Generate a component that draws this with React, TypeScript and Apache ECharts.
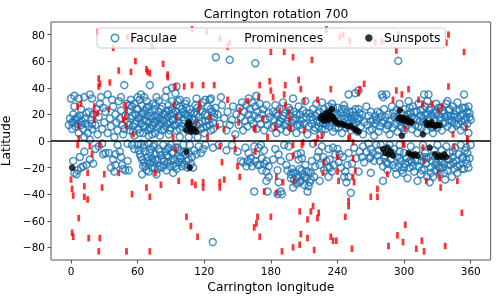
import React, { useEffect, useRef } from "react";
import * as echarts from "echarts";

const xTicks = [0, 60, 120, 180, 240, 300, 360];
const yTicks = [-80, -60, -40, -20, 0, 20, 40, 60, 80];

const faculaeNorth: number[][] = [
  [0,32],[3,34],[7,32],[12,33],[17,35],[19,32],[-1,17],[1,14],[2,20],[4,11],[5,17],[6,13],[8,19],[9,24],[10,15],[11,9],[13,13],[14,21],[15,6],[16,11],[18,16],[19,9],[20,20],[1,9],[3,26],[7,6],[12,3],[17,1],[-2,12],[4,16],
  [22,12],[24,5],[25,18],[26,28],[27,33],[28,9],[30,14],[31,22],[33,35],[33,6],[35,17],[36,11],[38,26],[39,3],[40,20],[41,14],[42,8],[43,30],[44,17],[45,33],[45,23],[46,12],[47,5],[48,42],[49,19],[50,28],[48,9],[37,31],[29,25],[23,24],
  [51,14],[52,22],[53,8],[54,31],[54,17],[55,26],[56,11],[57,4],[58,20],[59,15],[60,33],[60,24],[61,9],[62,31],[62,18],[63,13],[64,27],[65,6],[65,21],[66,16],[67,11],[68,25],[68,30],[69,19],[70,14],[70,4],[71,42],[71,22],[72,9],[73,17],[74,28],[74,12],[75,24],[76,19],[76,6],[77,15],[78,10],[79,22],[79,30],[80,17],[81,13],[82,26],[82,8],[83,20],[84,15],[85,11],[85,33],[86,22],[87,18],[88,5],[88,27],[89,14],[90,20],[90,10],[91,24],[92,16],[93,12],[94,36],[94,22],[95,8],[96,18],[97,14],[98,26],[98,3],[99,20],[100,11],[57,28],[63,35],[69,8],[80,4],[91,30],[96,30],[66,33],[77,33],[86,38],
  [101,22],[102,16],[103,28],[104,10],[105,19],[106,3],[107,24],[108,14],[109,17],[110,8],[111,21],[112,27],[113,12],[114,3],[115,18],[116,23],[117,9],[118,15],[119,29],[120,6],[121,20],[122,11],[123,26],[124,16],[125,31],[126,8],[127,22],[128,14],[129,18],[130,25],[91,40],[95,41],[98,31],[104,30],[113,32],[121,31],[126,32],[135,33],[130.5,63],[143,61],[166,58.5],[294.7,60.3],
  [132,20],[134,13],[136,27],[138,17],[140,8],[141,22],[143,12],[145,16],[146,26],[148,5],[149,20],[151,12],[152,25],[153,18],[154,29],[155,8],[156,22],[157,15],[158,27],[159,11],[160,20],[161,24],[162,16],[163,29],[164,13],[165,19],[166,26],[167,9],[168,22],[169,17],[170,28],[171,13],[172,20],[173,24],[174,8],[175,16],[176,27],[177,12],[178,21],[179,18],[160,32],[167,34],
  [181,10],[182,22],[183,16],[184,27],[185,6],[186,19],[187,13],[188,24],[189,9],[190,17],[191,29],[192,12],[193,21],[194,7],[195,15],[196,25],[197,19],[198,10],[199,14],[200,32],[201,22],[202,17],[203,6],[204,12],[205,26],[206,20],[207,15],[208,9],[209,23],[210,13],[211,30],[212,18],[213,5],[214,11],[215,21],[216,18],
  [217,13],[218,24],[219,8],[220,19],[221,28],[222,15],[223,11],[224,22],[225,5],[226,29],[226,17],[227,13],[228,24],[229,9],[230,20],[231,15],[232,26],[233,11],[234,18],[235,28],[236,7],[237,22],[238,14],[239,19],[240,25],[241,10],[242,17],[243,21],[244,6],[245,14],[246,27],[247,24],[248,10],[249,18],[250,35],[250,13],[251,22],[252,8],[253,16],[254,22],[255,11],[256,36],[256,19],[257,14],[258,7],[259,38],[259,24],[260,17],[261,11],[262,20],[263,5],[264,14],
  [266,26],[267,12],[268,19],[269,8],[270,22],[271,9],[272,16],[273,4],[274,13],[275,16],[276,22],[277,7],[278,11],[279,18],[280,35],[280,14],[281,33],[282,24],[283,18],[284,35],[284,9],[285,12],[286,20],[287,5],[288,15],[289,26],[290,10],[291,18],[292,13],[293,23],[294,7],[295,16],[296,28],[297,11],[298,21],[299,14],
  [300,8],[301,24],[302,18],[303,12],[304,30],[305,15],[306,21],[307,9],[308,26],[309,17],[310,12],[311,22],[312,6],[313,28],[314,15],[315,19],[316,10],[317,24],[318,35],[318,14],[319,20],[320,8],[321,30],[322,35],[322,17],[323,12],[324,25],[325,19],[326,6],[327,22],[328,15],[329,28],[330,10],[331,20],[332,16],[333,25],[334,8],[335,13],[336,21],[337,18],[338,28],[339,30],[339,11],[340,23],[341,16],[342,19],[343,9],[344,26],[345,14],[346,20],[347,12],[348,29],[349,17],[350,23],[351,8],[352,15],[353,20],[354,35],[354,11],[355,25],[356,18],[357,13],[358,26],[359,21],[360,16],[358,6]
];

const faculaeNorthDense: number[][] = [
  [52,12],[53,27],[55,19],[56,7],[58,13],[59,24],[61,17],[62,6],[64,20],[65,11],[67,23],[68,15],[70,26],[71,10],[72,19],[73,5],[75,14],[76,27],[78,18],[79,12],[81,24],[82,16],[84,9],[85,20],[87,13],[88,23],[89,8],[91,16],[92,21],[94,12],[95,27],[97,19],[98,9],[100,24],
  [101,13],[103,20],[104,25],[106,17],[108,21],[109,11],[111,16],[113,20],[114,25],[116,13],[118,22],[119,10],[121,15],[123,19],[125,12],[126,24],[128,9],[129,21],
  [218,16],[220,10],[222,21],[224,14],[226,9],[228,19],[230,12],[232,22],[234,14],[236,25],[238,10],[240,20],[242,13],[244,24],[246,17],[248,21],[250,16],[252,19],[254,13],[256,24],[258,17],[260,21],
  [301,13],[303,20],[305,25],[307,18],[309,22],[311,16],[313,11],[315,23],[317,17],[319,26],[321,20],[323,23],[325,10],[327,16],[329,21],[331,25],[333,18],[335,23],[337,14],[339,19],[341,24],[343,15],[345,18],[347,23],[349,13],[351,19],[353,25],[355,16],[357,22],[359,18],
  [2,14],[6,18],[9,12],[13,17],[16,22],[19,13],
  [183,11],[185,21],[188,15],[191,19],[194,13],[197,23],[200,16],[203,20],[206,12],[209,17],[212,21],
  [270,15],[274,19],[278,21],[282,15],[286,12],[290,21],[294,18],[298,10]
];

const faculaeSouth: number[][] = [
  [2,-15],[3,-24],[5,-25],[6,-22],[8,-12],[9,-20],[11,-19],[14,-18],[17,-14],[20,-17],[22,-6],[25,-4],[29,-10],[31,-9],[34,-9],[36,-20],[38,-14],[39,-23],[40,-18],[40,-10],[42,-3],[44,-8],[45,-12],[46,-18],[47,-21],[49,-22],[51,-15],[51,-2],[52,-22],[55,-3],[28,-2],[12,-8],
  [57,-6],[60,-3],[62,-10],[63,-2],[64,-14],[64,-25],[65,-19],[66,-3],[66,-16],[67,-8],[68,-22],[69,-12],[70,-2],[70,-23],[71,-17],[72,-6],[73,-13],[74,-16],[75,-3],[75,-20],[76,-10],[77,-25],[78,-14],[79,-6],[80,-19],[81,-11],[82,-20],[83,-3],[84,-15],[85,-8],[86,-22],[87,-16],[87,-6],[88,-12],[89,-19],[90,-3],[91,-9],[92,-18],[92,-24],[93,-14],[94,-5],[95,-21],[96,-11],[97,-16],[98,-7],[99,-13],[100,-16],[101,-3],[102,-18],[103,-10],[105,-20],[106,-14],[107,-3],[108,-17],[109,-12],[110,-20],[111,-7],[113,-10],[115,-4],[117,-9],[119,-6],[121,-3],[127.7,-76],
  [128,-5],[133,-3],[140,-7],[145,-3],[150,-8],[153,-15],[155,-16],[157,-5],[159,-15],[160,-9],[162,-13],[163,-19],[165,-4],[166,-15],[167,-10],[169,-5],[170,-18],[172,-13],[174,-7],[176,-15],[176,-23],[176,-30],[178,-19],[178,-27],[165,-38],[177,-38],[171,-3],
  [182,-14],[184,-6],[186,-22],[187,-10],[187,-31],[189,-15],[189,-38],[186,-40],[190,-40],[192,-3],[194,-18],[196,-4],[197,-12],[198,-25],[199,-21],[200,-35],[201,-29],[202,-24],[203,-32],[204,-10],[205,-14],[205,-27],[206,-21],[207,-9],[207,-30],[208,-13],[209,-25],[210,-33],[211,-18],[212,-28],[213,-38],[214,-23],[215,-31],[216,-24],[217,-15],[218,-2],[219,-27],[220,-19],[222,-12],[223,-8],[224,-18],[224,-30],[226,-4],[227,-12],[228,-22],[230,-15],[231,-20],[232,-6],[232,-27],[233,-20],[235,-23],[236,-5],[238,-10],[240,-6],[241,-16],[243,-20],[245,-12],[247,-23],[248,-31],[250,-9],[250,-27],[252,-39],[253,-17],[255,-5],[257,-13],[259,-23],[260,-8],
  [262,-12],[263,-4],[264,-16],[266,-8],[268,-2],[269,-13],[270,-6],[270,-12],[270,-24],[272,-9],[273,-15],[275,-3],[276,-11],[277,-7],[278,-15],[279,-3],[281,-19],[281,-30],[282,-13],[284,-16],[285,-22],[287,-3],[288,-14],[290,-18],[291,-6],[293,-25],[294,-12],[295,-19],[296,-3],[297,-15],[298,-22],[299,-24],[300,-9],[301,-17],[302,-13],[303,-28],[305,-20],[306,-4],[307,-16],[309,-23],[310,-14],[311,-7],[312,-30],[313,-19],[314,-11],[315,-25],[316,-15],[317,-3],[318,-21],[319,-9],[320,-17],[321,-27],[322,-12],[323,-31],[324,-20],[325,-15],[326,-27],[327,-7],[328,-22],[329,-16],[330,-3],[331,-19],[332,-25],[333,-14],[334,-7],[335,-20],[336,-17],[337,-29],[338,-4],[339,-22],[340,-14],[341,-9],[342,-18],[343,-27],[344,-12],[345,-21],[346,-5],[347,-15],[348,-24],[349,-10],[350,-18],[351,-3],[352,-13],[353,-12],[354,-21],[355,-7],[356,-5],[357,-17],[357,-9],[358,-20],[359,-13],[360,-3]
];

const faculaeSouthDense: number[][] = [
  [61,-7],[63,-12],[65,-5],[67,-19],[69,-15],[71,-9],[73,-20],[74,-4],[76,-14],[78,-21],[80,-8],[82,-14],[84,-18],[86,-11],[88,-5],[90,-15],[92,-9],[94,-19],[96,-5],[98,-13],[100,-19],[102,-8],[104,-15],[106,-9],
  [195,-22],[198,-28],[200,-24],[203,-27],[206,-31],[208,-22],[210,-27],[212,-23],[214,-34],[216,-29],
  [283,-11],[285,-17],[289,-9],[292,-20],[296,-13],[300,-20],[304,-16],[308,-19],[312,-15],[316,-22],[320,-13],[324,-24],[328,-18],[332,-20],[336,-24],[340,-18],[344,-16],[348,-19],[352,-21],[356,-14],[344,-8],[334,-16],[326,-11],[318,-12],[306,-14],[296,-8],
  [233,-14],[237,-18],[242,-10],[246,-27],[249,-18],
  [158,-19],[161,-16],[168,-18],[172,-22],[174,-17]
];

const prominences: number[][] = [
  [24,82],[38,70],[51,78],[56,76],[73,72],[94,78],[109,84],[122,82],[134,77],[143,74],[141,71],[180,67],[192,67],[200,63],[217,61],[230,84],[242,78],[245,80],[251,75],[274,74],[280,75],[293,68],[295,80],[340,80],[338,74],[354,67],
  [58,60],[68,54],[69,52],[71,51],[54,52],[43,53],[83,58],[87,48],[35,44],[26,43],[25,41],[25,47],[94,41],[109,42],[119,42],[87,50],[102,41],[129,42],[170,42],[179,45],[180,38],[182,33],[169,33],[193,42],[192,35],[205,46],[207,39],[210,30],[234,39],[264,43],[260,39],[259,36],
  [293,38],[290,31],[298,35],[304,39],[313,31],[317,28],[325,28],[331,23],[334,26],[340,41],[222,31],[193,27],[196,22],[197,10],[165,10],[177,3],[184,10],[208,-3],[226,4],[250,2],[300,-3],[344,5],[356,10],[357,2],[301,9],
  [6,26],[9,28],[21,26],[21,21],[24,21],[21,16],[34,24],[7,11],[49,27],[50,23],[49,18],[50,11],[47,16],[56,5],[6,-3],[26,-3],[7,2],
  [116,28],[115,24],[95,18],[125,18],[132,11],[141,31],[147,2],[151,14],[93,27],[152,23],[159,30],[113,14],[138,9],[123,3],[92,3],[166,9],[173,17],[188,23],[197,17],[198,9],[210,8],[222,2],[251,3],
  [17,-4],[19,-10],[15,-24],[30,-25],[43,-24],[0,-29],[1,-36],[2,-41],[12,-34],[12,-42],[15,-44],[28,-35],[55,-40],[68,-35],[71,-42],[7,-58],[1,-69],[2,-72],[16,-73],[26,-73],[25,-83],[50,-83],[71,-83],[76,-24],[97,-30],[104,-57],[108,-64],[114,-72],[109,-31],[112,-33],[119,-31],[119,-35],[134,-31],[134,-35],[138,-29],[136,-16],[150,-19],[152,-27],[134,-4],[148,-6],[81,-33],
  [168,-57],[167,-62],[165,-65],[170,-72],[174,-38],[180,-57],[166,-8],[94,-6],[185,-27],[191,-31],[185,-39],[200,-11],[228,-16],[227,-24],[240,-12],[240,-23],[241,-30],[254,-13],[256,-22],[254,-27],[255,-31],[285,-25],[270,-42],[276,-42],[276,-36],[320,-30],[331,-24],[333,-35],[348,-30],
  [250,-45],[250,-49],[218,-49],[216,-53],[223,-54],[206,-53],[213,-59],[222,-58],[247,-57],[206,-78],[200,-80],[207,-70],[213,-73],[219,-82],[234,-72],[236,-75],[239,-75],[253,-81],[190,-83],[294,-71],[301,-63],[299,-76],[316,-75],[311,-81],[318,-83],[286,-79],[337,-79],[352,-54],
  [200,-3],[209,-1],[220,-1],[254,-1],[201,-30],[299,-2],[317,-5],[345,-4],[357,0],[318,-15],[332,-28]
];

const sunspots: number[][] = [
  [104,8],[105,12],[106,14],[107,10],[108,7],[110,8],[111,9],[113,7],[107,12],
  [225,17],[226,19],[228,15],[229,18],[230,21],[231,17],[232,16],[233,22],[234,19],[235,24],[236,18],[237,16],[238,15],[239,14],[241,13],[244,13],[246,12],[249,11],[252,11],[255,9],[257,8],[259,7],
  [295,17],[296,23],[297,18],[298,16],[299,17],[300,16],[301,15],[302,17],[304,14],[305,15],[307,14],[298,4],[317,5],[320,14],[322,13],[324,12],[326,12],[328,11],[330,12],[332,12],[321,12],[325,14],
  [1,-20],[104,-8],[107,-20],
  [281,-6],[283,-9],[285,-5],[286,-10],[288,-8],[290,-11],[304,-9],[306,-10],[308,-11],[310,-10],[312,-11],[323,-5],[328,-10],[330,-12],[332,-11],[334,-12],[336,-10],[338,-12]
];

const FONT = "DejaVu Sans";
const SPINE = "#555555";
const FS = 12.3;
const minusFmt = (v: number) => String(v).replace("-", "\u2212");

export default function App() {
  const ref = useRef<HTMLDivElement>(null);
  useEffect(() => {
    document.body.style.margin = "0";
    const chart = echarts.init(ref.current!, null, { renderer: "svg" });
    chart.setOption({
      animation: false,
      textStyle: { fontFamily: FONT },
      title: {
        text: "Carrington rotation 700",
        left: 271,
        top: 3,
        textAlign: "center",
        textStyle: { fontSize: FS, fontWeight: "normal", color: "#000", fontFamily: FONT },
      },
      legend: {
        left: 97,
        top: 28,
        orient: "horizontal",
        itemWidth: 20.5,
        itemHeight: 7.5,
        itemGap: 42,
        padding: [4, 5, 4, 13.5],
        backgroundColor: "rgba(255,255,255,0.8)",
        borderColor: "#cccccc",
        borderWidth: 1,
        borderRadius: 3,
        textStyle: { fontSize: FS, color: "#000", fontFamily: FONT },
        data: [
          { name: "Faculae", icon: "circle", itemStyle: { color: "rgba(0,0,0,0)", borderColor: "#1f77b4", borderWidth: 1.5 } },
          { name: "Prominences", icon: "rect", itemStyle: { opacity: 0 } },
          { name: "Sunspots", icon: "circle", itemStyle: { color: "#000" } },
        ],
      },
      grid: {
        left: 51, right: 8.3, top: 22, bottom: 39,
        show: true, borderColor: SPINE, borderWidth: 1,
        outerBoundsMode: "none",
      },
      xAxis: {
        type: "value", min: -18, max: 378,
        name: "Carrington longitude", nameLocation: "middle", nameGap: 17,
        nameTextStyle: { fontSize: FS, color: "#000", fontFamily: FONT },
        axisLine: { show: false, onZero: false },
        axisTick: { show: true, length: 3.5, lineStyle: { color: SPINE }, customValues: xTicks },
        axisLabel: { customValues: xTicks, fontSize: 10.5, color: "#000", margin: 5, fontFamily: FONT, formatter: minusFmt },
        splitLine: { show: false },
      },
      yAxis: {
        type: "value", min: -89.5, max: 89.5,
        name: "Latitude", nameLocation: "middle", nameGap: 30, nameRotate: 90,
        nameTextStyle: { fontSize: FS, color: "#000", fontFamily: FONT },
        axisLine: { show: false, onZero: false },
        axisTick: { show: true, length: 3.5, lineStyle: { color: SPINE }, customValues: yTicks },
        axisLabel: { customValues: yTicks, fontSize: 10.5, color: "#000", margin: 6, fontFamily: FONT, formatter: minusFmt },
        splitLine: { show: false },
      },
      series: [
        {
          name: "Faculae", type: "scatter",
          data: [...faculaeNorth, ...faculaeNorthDense, ...faculaeSouth, ...faculaeSouthDense],
          symbol: "circle", symbolSize: 7,
          itemStyle: { color: "rgba(0,0,0,0)", borderColor: "#1f77b4", borderWidth: 1.5 },
          emphasis: { disabled: true },
          markLine: {
            silent: true, symbol: "none", label: { show: false },
            lineStyle: { color: "#000", width: 1.5, type: "solid" },
            emphasis: { disabled: true },
            data: [{ yAxis: 0 }],
          },
        },
        {
          name: "Prominences", type: "scatter",
          data: prominences,
          symbol: "rect", symbolSize: [2.8, 6.5],
          itemStyle: { color: "#ff0000" },
          emphasis: { disabled: true },
        },
        {
          name: "Sunspots", type: "scatter",
          data: sunspots,
          symbol: "circle", symbolSize: 6.5,
          itemStyle: { color: "#000" },
          emphasis: { disabled: true },
        },
      ],
    });
    return () => chart.dispose();
  }, []);
  return <div ref={ref} style={{ width: 499, height: 299, position: "fixed", left: 0, top: 0 }} />;
}
